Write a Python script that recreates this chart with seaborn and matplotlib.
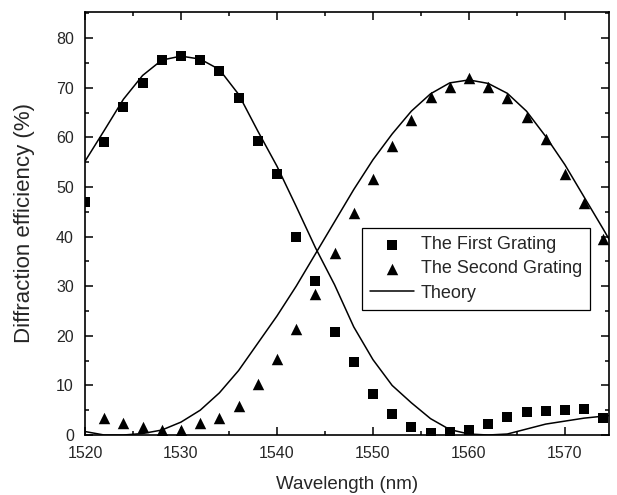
import matplotlib
matplotlib.use("Agg")
import matplotlib.pyplot as plt
from matplotlib.ticker import MultipleLocator
import seaborn as sns

# measured points, every 2 nm
wavelength = [1520, 1522, 1524, 1526, 1528, 1530, 1532, 1534, 1536, 1538,
              1540, 1542, 1544, 1546, 1548, 1550, 1552, 1554, 1556, 1558,
              1560, 1562, 1564, 1566, 1568, 1570, 1572, 1574]
first_grating = [47.0, 59.0, 66.2, 71.0, 75.6, 76.5, 75.6, 73.4, 67.9, 59.3,
                 52.6, 40.0, 31.0, 20.8, 14.7, 8.3, 4.3, 1.6, 0.5, 0.7,
                 1.0, 2.2, 3.6, 4.6, 4.9, 5.1, 5.3, 3.4]
second_grating = [None, 3.4, 2.5, 1.6, 1.0, 1.0, 2.4, 3.4, 5.9, 10.3,
                  15.4, 21.3, 28.5, 36.8, 44.7, 51.7, 58.2, 63.6, 68.1, 70.2,
                  72.0, 70.1, 67.9, 64.1, 59.7, 52.7, 46.8, 39.6]

# theory curves
theory_wl = [1520, 1522, 1524, 1526, 1528, 1530, 1532, 1534, 1536, 1538,
             1540, 1542, 1544, 1546, 1548, 1550, 1552, 1554, 1556, 1558,
             1560, 1562, 1564, 1566, 1568, 1570, 1572, 1574, 1576]
theory_first = [55.2, 61.4, 67.7, 72.5, 75.6, 76.4, 75.8, 73.7, 68.7, 61.3,
                54.2, 46.1, 37.8, 30.3, 21.8, 15.2, 10.0, 6.5, 3.3, 1.1,
                0.2, 0.0, 0.2, 1.2, 2.2, 2.8, 3.4, 3.8, 4.2]
theory_second = [0.7, 0.0, 0.0, 0.3, 1.0, 2.6, 5.0, 8.5, 13.0, 18.5,
                 24.0, 30.0, 36.5, 43.0, 49.5, 55.5, 60.7, 65.3, 68.8, 71.0,
                 71.6, 70.9, 68.9, 65.3, 60.2, 54.5, 48.0, 41.5, 34.8]

sns.set_style("ticks")
plt.rcParams['font.family'] = ['Liberation Sans', 'DejaVu Sans']

fig = plt.figure(figsize=(6.17, 4.95), dpi=100)
ax = fig.add_axes([0.1378, 0.1212, 0.8493, 0.8546])

sns.lineplot(x=theory_wl, y=theory_first, color='black', linewidth=1.1,
             sort=False, ax=ax, label='Theory')
sns.lineplot(x=theory_wl, y=theory_second, color='black', linewidth=1.1,
             sort=False, ax=ax)
sns.scatterplot(x=wavelength, y=first_grating, marker='s', color='black',
                s=50, linewidth=0, ax=ax, label='The First Grating', zorder=3)
sns.scatterplot(x=wavelength, y=second_grating, marker='^', color='black',
                s=68, linewidth=0, ax=ax, label='The Second Grating', zorder=3)

ax.set_xlim(1520, 1574.6)
ax.set_ylim(0, 85.3)
ax.xaxis.set_major_locator(MultipleLocator(10))
ax.xaxis.set_minor_locator(MultipleLocator(5))
ax.yaxis.set_major_locator(MultipleLocator(10))
ax.yaxis.set_minor_locator(MultipleLocator(5))
ax.tick_params(which='both', direction='in', top=True, right=True,
               color='black', width=1.1)
ax.tick_params(which='major', length=6, labelsize=11.5, pad=8)
ax.tick_params(which='minor', length=3)
for sp in ax.spines.values():
    sp.set_visible(True)
    sp.set_linewidth(1.2)
    sp.set_color('black')

ax.set_xlabel('Wavelength (nm)', fontsize=13.5, labelpad=11)
ax.set_ylabel('Diffraction efficiency (%)', fontsize=16, labelpad=15)

handles, labels = ax.get_legend_handles_labels()
order = [labels.index('The First Grating'), labels.index('The Second Grating'),
         labels.index('Theory')]
leg = ax.legend([handles[i] for i in order], [labels[i] for i in order],
                loc='upper left', bbox_to_anchor=(0.529, 0.489),
                borderaxespad=0, fontsize=13, handlelength=2.4,
                handletextpad=0.4, labelspacing=0.4, borderpad=0.45,
                fancybox=False, frameon=True, framealpha=1)
leg.get_frame().set_edgecolor('black')
leg.get_frame().set_linewidth(0.9)

fig.savefig('out.png', dpi=100)
